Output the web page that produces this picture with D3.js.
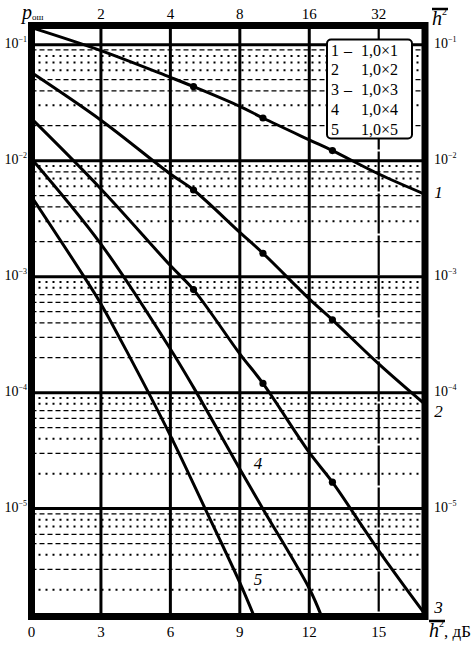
<!DOCTYPE html>
<html>
<head>
<meta charset="utf-8">
<script src="https://cdn.jsdelivr.net/npm/d3@7"></script>
<style>
  body { margin: 0; background: #fff; }
  svg { display: block; }
  text { font-family: "Liberation Serif", "DejaVu Serif", serif; fill: #000; }
</style>
</head>
<body>
<div id="chart"></div>
<script>
// Curves: h^2 in dB and error probability p
const snr1 = [0, 3, 6, 7, 9, 10, 12, 13, 15, 17];
const p1 = [0.140, 0.0887, 0.0522, 0.0435, 0.0294, 0.0233, 0.0151, 0.0122, 0.00767, 0.00513];

const snr2 = [0, 3, 6, 7, 9, 10, 12, 13, 15, 17];
const p2 = [0.0574, 0.0223, 0.00767, 0.00558, 0.00241, 0.00159, 0.000643, 0.000424, 0.000177, 0.0000794];

const snr3 = [0, 3, 6, 7, 9, 10, 12, 13, 15, 17];
const p3 = [0.0230, 0.00570, 0.001245, 0.000773, 0.000216, 0.000120, 0.0000305, 0.0000169, 0.00000435, 0.00000123];

const snr4 = [0, 3, 6, 7, 9, 10, 12, 12.5];
const p4 = [0.0104, 0.00191, 0.000238, 0.000111, 0.0000220, 0.00000993, 0.00000205, 0.00000122];

const snr5 = [0, 2.24, 3, 4.1, 6, 7.5, 9, 9.6];
const p5 = [0.0049, 0.00102, 0.000582, 0.00023, 0.0000426, 0.00001, 0.0000023, 0.0000012];

const markerDb = [7, 10, 13];          // marked points on curves 1-3
const curveNames = ["1", "2", "3", "4", "5"];

const bottomTicks = [0, 3, 6, 9, 12, 15];
const topTicks = ["2", "4", "8", "16", "32"];   // h^2 at 3, 6, 9, 12, 15 dB
const decades = [-1, -2, -3, -4, -5];

const legendNum = ["1", "2", "3", "4", "5"];
const legendDash = ["–", "", "–", "", ""];
const legendText = ["1,0×1", "1,0×2", "1,0×3", "1,0×4", "1,0×5"];

const W = 474, H = 645;
const svg = d3.select("#chart").append("svg")
    .attr("width", W)
    .attr("height", H);

const x = d3.scaleLinear().domain([0, 17]).range([31.5, 425]);
const y = d3.scaleLog().domain([Math.pow(10, -5.93), Math.pow(10, -0.835)]).range([616.5, 25.5]);

const x0 = x.range()[0], x1 = x.range()[1];
const yTop = y.range()[1], yBot = y.range()[0];

svg.append("defs").append("clipPath").attr("id", "plot")
    .append("rect")
    .attr("x", x0).attr("y", yTop)
    .attr("width", x1 - x0).attr("height", yBot - yTop);

// minor grid line style for each decade (mantissa -> dot/dash)
const minorStyle = {
    "-2": { 9: "dash", 8: "dot", 7: "dot", 6: "dot", 5: "dash", 4: "dash", 3: "dot", 2: "dash" },
    "-3": { 9: "dot", 8: "dash", 7: "dot", 6: "dot", 5: "dash", 4: "dash", 3: "dot", 2: "dash" },
    "-4": { 9: "dot", 8: "dot", 7: "dash", 6: "dash", 5: "dash", 4: "dash", 3: "dash", 2: "dash" },
    "-5": { 9: "dot", 8: "dot", 7: "dash", 6: "dash", 5: "dash", 4: "dot", 3: "dash", 2: "dot" },
    "-6": { 9: "dash", 8: "dot", 7: "dot", 6: "dash", 5: "dash", 4: "dot", 3: "dash", 2: "dot" }
};

const grid = svg.append("g");
const minor = [];
Object.keys(minorStyle).forEach(e => {
    for (let m = 2; m <= 9; m++) {
        const v = m * Math.pow(10, +e);
        if (v > y.domain()[0] && v < y.domain()[1]) minor.push({ v: v, s: minorStyle[e][m] });
    }
});

grid.selectAll(".minor")
    .data(minor)
    .enter().append("line")
    .attr("x1", x0).attr("x2", x1)
    .attr("y1", d => y(d.v)).attr("y2", d => y(d.v))
    .attr("stroke", "#000")
    .attr("stroke-width", d => d.s === "dot" ? 2 : 1.2)
    .attr("stroke-dasharray", d => d.s === "dot" ? "2,5" : "5,3");

grid.selectAll(".major")
    .data(decades)
    .enter().append("line")
    .attr("x1", x0).attr("x2", x1)
    .attr("y1", d => y(Math.pow(10, d))).attr("y2", d => y(Math.pow(10, d)))
    .attr("stroke", "#000")
    .attr("stroke-width", 3);

grid.selectAll(".vline")
    .data(bottomTicks.slice(1))
    .enter().append("line")
    .attr("x1", d => x(d)).attr("x2", d => x(d))
    .attr("y1", yTop).attr("y2", yBot)
    .attr("stroke", "#000")
    .attr("stroke-width", d => d === 15 ? 2.2 : 3)
    .attr("stroke-dasharray", d => d === 15 ? "40,2" : null);

// legend box
const lg = svg.append("g");
lg.append("rect")
    .attr("x", 327).attr("y", 39.5)
    .attr("width", 85).attr("height", 99)
    .attr("rx", 4)
    .attr("fill", "#fff")
    .attr("stroke", "#000")
    .attr("stroke-width", 2);

legendNum.forEach((n, i) => {
    const yy = 55.5 + i * 19.8;
    lg.append("text").attr("x", 331).attr("y", yy).attr("font-size", 16).text(n);
    lg.append("text").attr("x", 344).attr("y", yy).attr("font-size", 16).text(legendDash[i]);
    lg.append("text").attr("x", 361).attr("y", yy).attr("font-size", 16).text(legendText[i]);
});

// curves
const series = [
    { snr: snr1, p: p1 },
    { snr: snr2, p: p2 },
    { snr: snr3, p: p3 },
    { snr: snr4, p: p4 },
    { snr: snr5, p: p5 }
].map(s => s.snr.map((d, i) => ({ x: d, p: s.p[i] })));

const line = d3.line()
    .x(d => x(d.x))
    .y(d => y(d.p))
    .curve(d3.curveCatmullRom.alpha(0.5));

const curves = svg.append("g").attr("clip-path", "url(#plot)");
curves.selectAll(".curve")
    .data(series)
    .enter().append("path")
    .attr("d", line)
    .attr("fill", "none")
    .attr("stroke", "#000")
    .attr("stroke-width", 3);

const marks = [];
series.slice(0, 3).forEach(s => {
    s.forEach(d => { if (markerDb.includes(d.x)) marks.push(d); });
});
curves.selectAll(".mark")
    .data(marks)
    .enter().append("circle")
    .attr("cx", d => x(d.x))
    .attr("cy", d => y(d.p))
    .attr("r", 3.6)
    .attr("fill", "#000");

// frame
svg.append("rect")
    .attr("x", x0).attr("y", yTop)
    .attr("width", x1 - x0).attr("height", yBot - yTop)
    .attr("fill", "none")
    .attr("stroke", "#000")
    .attr("stroke-width", 7);

// y labels, both sides
function powLabel(g, xx, d, anchor) {
    const t = g.append("text")
        .attr("x", xx)
        .attr("y", y(Math.pow(10, d)) + 3)
        .attr("font-size", 14)
        .attr("text-anchor", anchor);
    t.append("tspan").text("10");
    t.append("tspan").attr("font-size", 8).attr("dy", -6).text("−" + (-d));
}
const yl = svg.append("g");
decades.forEach(d => {
    powLabel(yl, 27, d, "end");
    powLabel(yl, 434, d, "start");
});

// bottom labels
svg.append("g").selectAll("text")
    .data(bottomTicks)
    .enter().append("text")
    .attr("x", d => x(d))
    .attr("y", 637)
    .attr("font-size", 15)
    .attr("text-anchor", "middle")
    .text(d => d);

// top labels (h^2 ratio)
svg.append("g").selectAll("text")
    .data(topTicks)
    .enter().append("text")
    .attr("x", (d, i) => x(bottomTicks[i + 1]))
    .attr("y", 19)
    .attr("font-size", 15)
    .attr("text-anchor", "middle")
    .text(d => d);

// axis titles
const pt = svg.append("text").attr("x", 22).attr("y", 19);
pt.append("tspan").attr("font-size", 20).attr("font-style", "italic").text("p");
pt.append("tspan").attr("font-size", 9).attr("dy", 1).text("ош");

function hBar(xx, yy, tail) {
    const t = svg.append("text").attr("x", xx).attr("y", yy);
    t.append("tspan").attr("font-size", 20).attr("font-style", "italic").text("h");
    t.append("tspan").attr("font-size", 10).attr("dy", -10).text("2");
    if (tail) t.append("tspan").attr("font-size", 17).attr("dy", 10).text(tail);
    svg.append("line")
        .attr("x1", xx).attr("x2", xx + 16)
        .attr("y1", yy - 16).attr("y2", yy - 16)
        .attr("stroke", "#000").attr("stroke-width", 2.5);
}
hBar(432, 25, null);
hBar(429, 637, ", дБ");

// curve labels
const curveLabelPos = [
    { x: 17.4, p: p1[p1.length - 1] },
    { x: 17.4, p: 0.000062 },
    { x: 17.4, p: 1.25e-6 },
    { x: 9.6, p: 2.2e-5 },
    { x: 9.6, p: 2.2e-6 }
];
svg.append("g").selectAll("text")
    .data(curveLabelPos)
    .enter().append("text")
    .attr("x", d => x(d.x))
    .attr("y", (d, i) => y(d.p) + (i < 1 ? 4 : 0))
    .attr("font-size", 17)
    .attr("font-style", "italic")
    .text((d, i) => curveNames[i]);
</script>
</body>
</html>
